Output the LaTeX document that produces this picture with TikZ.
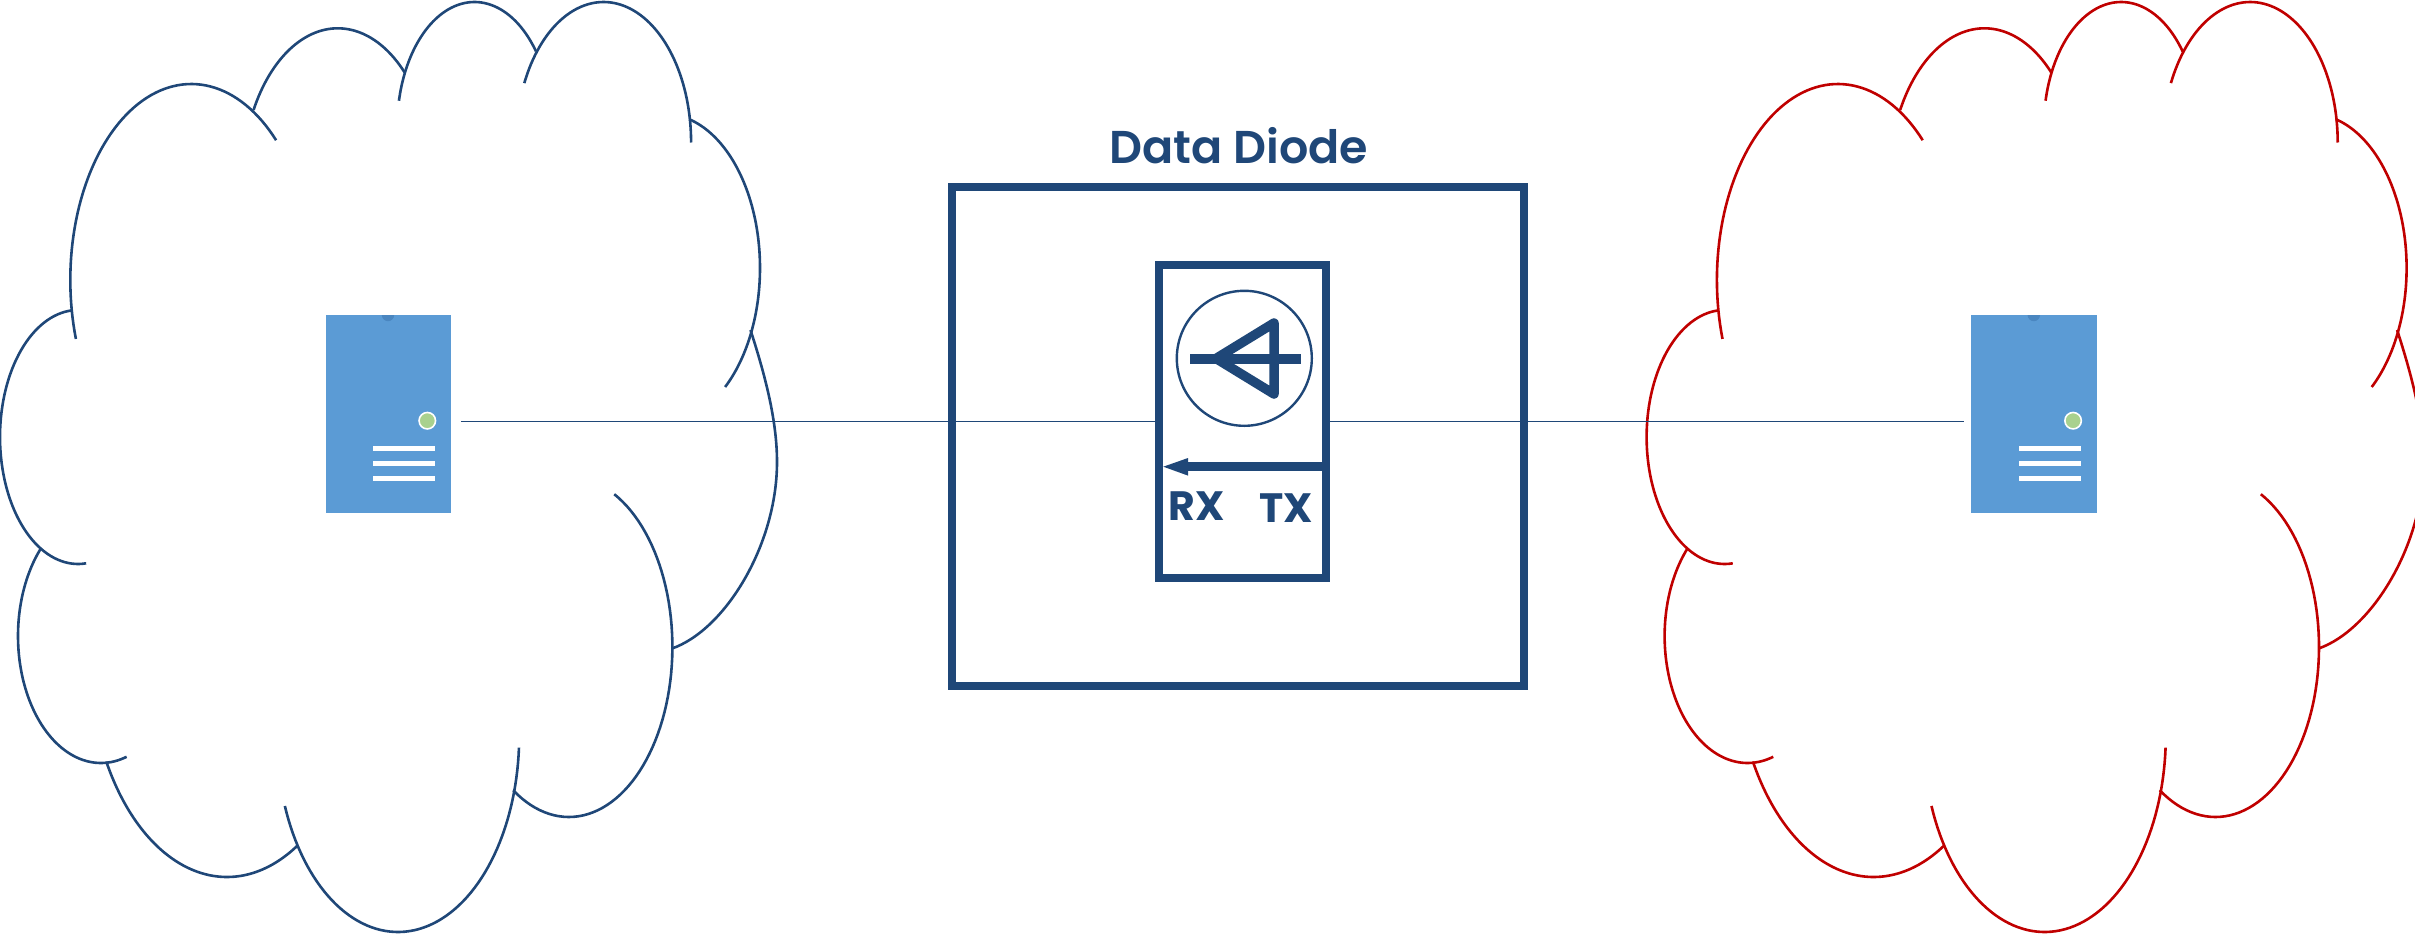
\documentclass[tikz,border=0pt]{standalone}
\usepackage{fontspec}
\setmainfont{Poppins SemiBold}
\newfontfamily\rxfont{Poppins Bold}
\usetikzlibrary{arrows.meta}
\definecolor{navy}{HTML}{1F4778}
\definecolor{cloudred}{HTML}{C00000}
\definecolor{srvblue}{HTML}{5B9BD5}
\definecolor{srvdark}{HTML}{4A86C0}
\definecolor{ledgreen}{HTML}{A9D18E}
\tikzset{
  cloudarc/.style={line width=2.6pt,line cap=butt},
  boxframe/.style={draw=navy,line width=8pt,rectangle,inner sep=0pt,outer sep=0pt},
  srvbody/.style={fill=srvblue,rectangle,inner sep=0pt,outer sep=0pt,minimum width=125.3pt,minimum height=197.7pt},
  srvbar/.style={fill=white,rectangle,inner sep=0pt,minimum width=62pt,minimum height=5pt},
  srvled/.style={fill=ledgreen,draw=white,line width=1.6pt,circle,inner sep=0pt,minimum size=16.5pt},
  wire/.style={draw=navy,line width=1.5pt},
  label/.style={text=navy,inner sep=0pt},
}
\newcommand{\lobe}[6]{\draw plot[domain=#5:#6,samples=70,variable=\t] ({#1+#3*cos(\t)},{#2-#4*sin(\t)});}
\newcommand{\cloudshape}[2]{%
\begin{scope}[xshift=#1,draw=#2,cloudarc]
\lobe{191.3}{280}{121}{196}{45.5}{197.5}
\lobe{337.8}{183.2}{95.6}{154.9}{45.6}{151.8}
\lobe{474.5}{127.2}{77.3}{125.2}{37.3}{167.8}
\lobe{603.6}{142.5}{87.5}{140.5}{0}{155}
\lobe{664.5}{268}{95.5}{154}{-50.6}{75}
\draw (750.5,330) .. controls (765,375) and (777,420) .. (777,462) .. controls (777,545) and (725,630) .. (672,648.5);
\lobe{568.9}{647}{103.5}{170}{-122.6}{64}
\lobe{398}{735.6}{121.2}{196.4}{-159}{-3.5}
\lobe{227}{653}{138}{224}{209}{301}
\lobe{101}{636}{83}{127}{136}{288}
\lobe{78}{437}{78}{127}{95}{276}
\end{scope}}
\begin{document}
\begin{tikzpicture}[x=1pt,y=-1pt]
\useasboundingbox (0,0) rectangle (2415,937);
\clip (0,0) rectangle (2415,937);
\cloudshape{0pt}{navy}
\cloudshape{1646.6pt}{cloudred}
% servers
\node[srvbody] (srvL) at (388.3,413.9) {};
\node[srvbody] (srvR) at (2034.1,413.9) {};
\foreach \dx/\nm in {0/a,1645.8/b}{
  \begin{scope}[xshift=\dx pt]
    \begin{scope}
      \clip (325.7,315) rectangle (451,325);
      \fill[srvdark] (388,315) circle (6.2);
    \end{scope}
    \node[srvled] (led\nm) at (427.3,420.7) {};
    \node[srvbar] (bar1\nm) at (404,448) {};
    \node[srvbar] (bar2\nm) at (404,463.3) {};
    \node[srvbar] (bar3\nm) at (404,478.3) {};
  \end{scope}
}
% inner box geometry, then wires underneath the frames
\coordinate (wy) at (0,421.7);
\coordinate (innerW) at (1159.3,421.7);
\coordinate (innerE) at (1326,421.7);
\draw[wire,shorten <=10pt] (srvL.east |- wy) -- (innerW);
\draw[wire,shorten >=7pt] (innerE) -- (srvR.west |- wy);
% outer box, title
\node[boxframe,minimum width=571.4pt,minimum height=499pt] (outer) at (1238,436.8) {};
\node[label,font=\fontsize{46}{46}\selectfont,anchor=base] (title) at (1238.5,163) {Data Diode};
% inner box
\node[boxframe,fill=white,minimum width=166.7pt,minimum height=313pt] (inner) at (1242.6,421.2) {};
% diode symbol
\node[draw=navy,line width=2.4pt,circle,inner sep=0pt,outer sep=0pt,minimum size=135pt] (dcircle) at (1244.3,358.3) {};
\coordinate (da) at (1216,358.5);
\coordinate (dt) at (1274,323);
\coordinate (db) at (1274,394);
\draw[navy,line width=9.5pt,line join=round] (da) -- (dt) -- (db) -- cycle;
\coordinate (dl) at (1190,358.7);
\coordinate (dr) at (1301,358.7);
\draw[navy,line width=10.4pt] (dl) -- (dr);
% TX to RX arrow
\coordinate (ar) at (1326,466.7);
\coordinate (atip) at (1163.3,466.7);
\coordinate (ab) at (1186,466.7);
\draw[navy,line width=8.6pt] (ar) -- (ab);
\fill[navy] (atip) -- (1188,458) -- (1188,475.6) -- cycle;
% labels
\node[label,font=\rxfont\fontsize{41}{41}\selectfont,anchor=base] (rx) at (1197,520) {RX};
\node[label,font=\rxfont\fontsize{41}{41}\selectfont,anchor=base] (tx) at (1286.5,522.7) {TX};
\end{tikzpicture}
\end{document}
